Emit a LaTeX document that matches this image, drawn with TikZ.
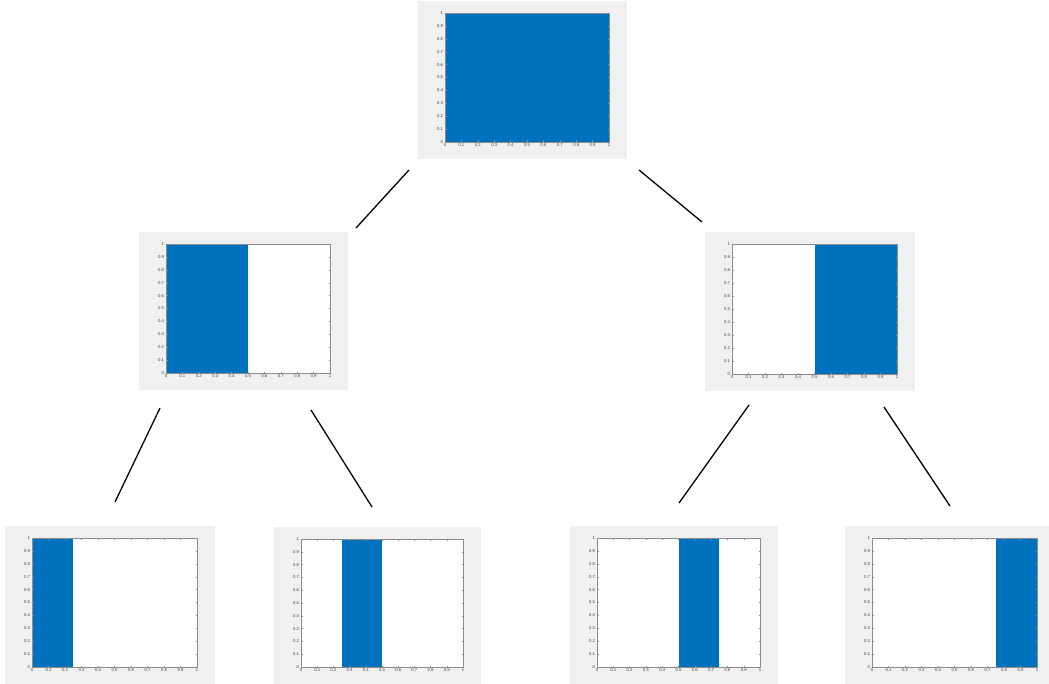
\documentclass[tikz,border=0pt]{standalone}
\usepackage{fontspec}
\setsansfont{Liberation Sans}
\begin{document}
\begin{tikzpicture}[x=0.03cm,y=-0.03cm]
\definecolor{panelbg}{HTML}{F0F0F0}
\definecolor{barblue}{HTML}{0072BD}
\definecolor{axisgray}{HTML}{404040}
\tikzset{
  axisline/.style={draw=axisgray!60,line width=0.3pt},
  ticklab/.style={font=\sffamily\fontsize{3.6}{3.6}\selectfont,text=axisgray,inner sep=0.6pt},
  edgeline/.style={draw=black,line width=1.1pt}
}
\newcommand\ticklabel[1]{\ifnum#1=0 0\else\ifnum#1=10 1\else0.#1\fi\fi}
\newcommand\histpanel[7]{%
  \fill[panelbg] (#2-27,#3-12) rectangle (#4+18,#5+17);
  \fill[white] (#2,#3) rectangle (#4,#5);
  \fill[barblue] ({#2+#6*(#4-#2)},#3) rectangle ({#2+#7*(#4-#2)},#5);
  \draw[axisline] (#2,#3) rectangle (#4,#5);
  \foreach \i in {0,...,10}{
    \pgfmathsetmacro\xx{#2+\i/10*(#4-#2)}
    \pgfmathsetmacro\yy{#5-\i/10*(#5-#3)}
    \draw[axisline] (\xx,#5) -- (\xx,#5-1.5);
    \draw[axisline] (\xx,#3) -- (\xx,#3+1.5);
    \draw[axisline] (#2,\yy) -- (#2+1.5,\yy);
    \draw[axisline] (#4,\yy) -- (#4-1.5,\yy);
    \node[ticklab,anchor=north] at (\xx,#5+1) {\ticklabel{\i}};
    \node[ticklab,anchor=east] at (#2-1,\yy) {\ticklabel{\i}};
  }
  \coordinate (#1) at ({(#2+#4)/2},{(#3+#5)/2});
}
\useasboundingbox (0,0) rectangle (1049,684);
% panels
\histpanel{top}{445}{13}{609}{142}{0}{1}
\histpanel{midL}{166}{244}{330}{373}{0}{0.5}
\histpanel{midR}{732}{244}{897}{374}{0.5}{1}
\histpanel{botA}{32}{538}{197}{667}{0}{0.25}
\histpanel{botB}{301}{539}{463}{667}{0.25}{0.5}
\histpanel{botC}{597}{538}{760}{667}{0.5}{0.75}
\histpanel{botD}{872}{538}{1037}{667}{0.75}{1}
% connector end points
\coordinate (topL) at (409,170);
\coordinate (midLt) at (356,228);
\coordinate (topR) at (639,170);
\coordinate (midRt) at (702,222);
\coordinate (midLa) at (160,408);
\coordinate (botAt) at (115,502);
\coordinate (midLb) at (311,410);
\coordinate (botBt) at (372,507);
\coordinate (midRa) at (749,405);
\coordinate (botCt) at (679,503);
\coordinate (midRb) at (884,407);
\coordinate (botDt) at (950,506);
\draw[edgeline] (topL) -- (midLt);
\draw[edgeline] (topR) -- (midRt);
\draw[edgeline] (midLa) -- (botAt);
\draw[edgeline] (midLb) -- (botBt);
\draw[edgeline] (midRa) -- (botCt);
\draw[edgeline] (midRb) -- (botDt);
\end{tikzpicture}
\end{document}
